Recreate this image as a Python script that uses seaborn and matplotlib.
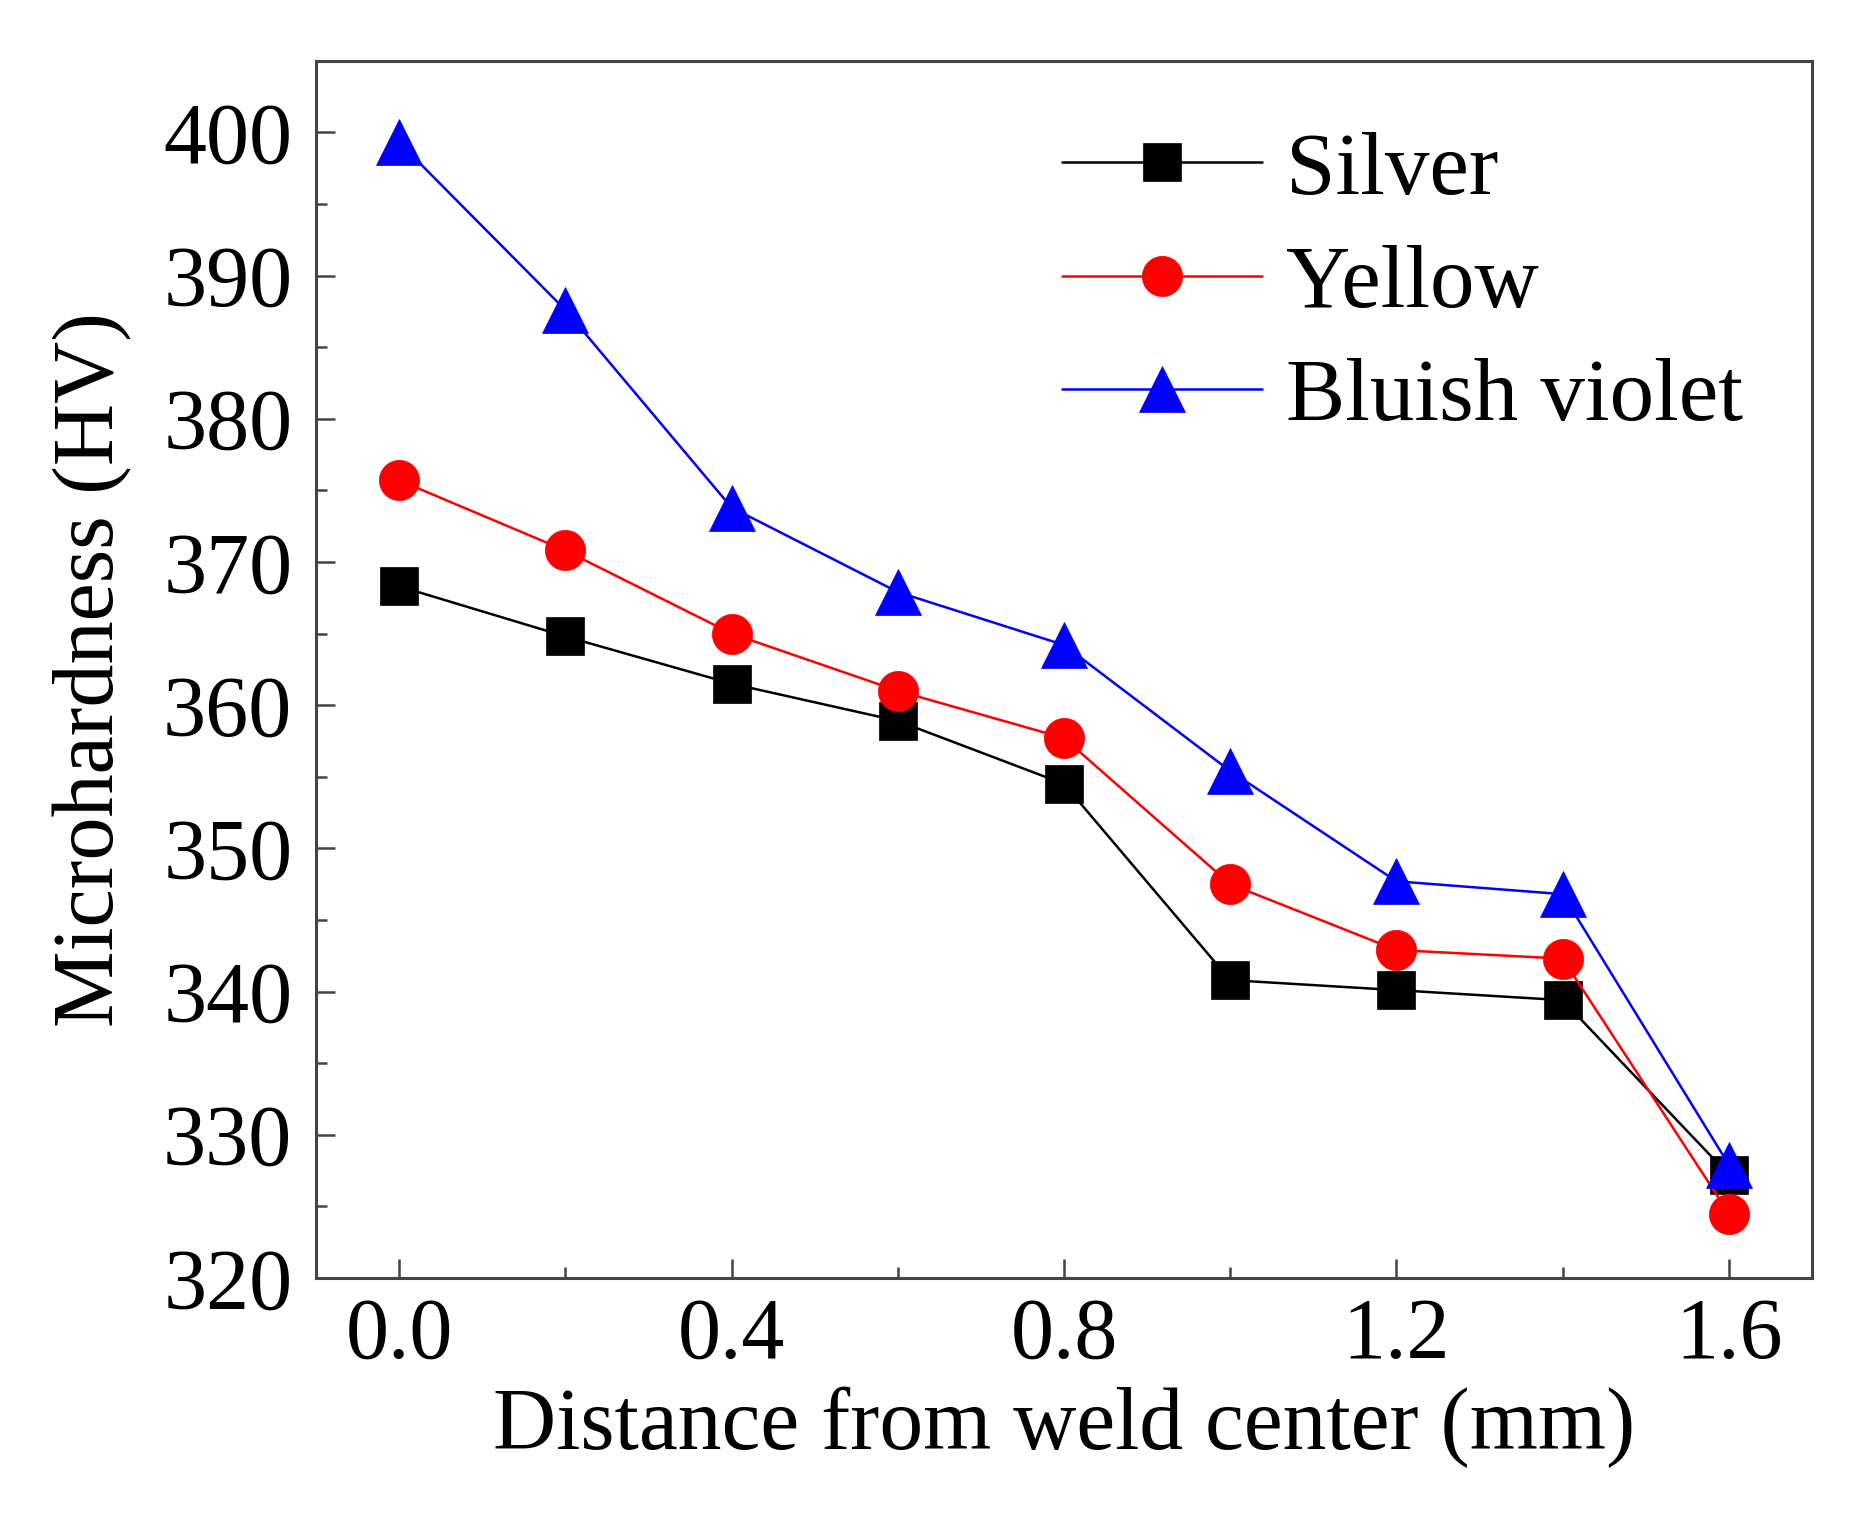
import numpy as np
import pandas as pd
import matplotlib
matplotlib.use("Agg")
import matplotlib.pyplot as plt
from matplotlib.ticker import MultipleLocator
import seaborn as sns

distance = [0.0, 0.2, 0.4, 0.6, 0.8, 1.0, 1.2, 1.4, 1.6]
silver = [368.3, 364.8, 361.5, 358.9, 354.5, 340.8, 340.1, 339.4, 327.2]
yellow = [375.7, 370.8, 365.0, 361.0, 357.7, 347.5, 342.9, 342.3, 324.5]
bluish_violet = [399.3, 387.6, 373.8, 367.9, 364.2, 355.4, 347.7, 346.8, 327.9]
series_names = ["Silver", "Yellow", "Bluish violet"]

sns.set_style("ticks")
plt.rcParams['font.family'] = ['Liberation Serif', 'DejaVu Serif']
plt.rcParams['text.color'] = 'black'
plt.rcParams['axes.labelcolor'] = 'black'
plt.rcParams['xtick.color'] = 'black'
plt.rcParams['ytick.color'] = 'black'

fig = plt.figure(figsize=(18.74, 15.14), dpi=100)
ax = fig.add_axes([0.1686, 0.1559, 0.9669 - 0.1686, 0.9599 - 0.1559])

styles = [("s", "#000000", 27), ("o", "#ff0000", 29), ("^", "#0000ff", 33)]
for name, vals, (mk, col, ms) in zip(series_names, [silver, yellow, bluish_violet], styles):
    sns.lineplot(x=distance, y=vals, ax=ax, marker=mk, markersize=ms, color=col,
                 markeredgecolor=col, markeredgewidth=0.5, linewidth=1.8, label=name)

ax.set_xlim(-0.1, 1.7)
ax.set_ylim(320, 405)
ax.xaxis.set_major_locator(MultipleLocator(0.4))
ax.xaxis.set_minor_locator(MultipleLocator(0.2))
ax.yaxis.set_major_locator(MultipleLocator(10))
ax.yaxis.set_minor_locator(MultipleLocator(5))
ax.set_xticklabels([f"{v:.1f}" for v in ax.get_xticks()])

for s in ax.spines.values():
    s.set_visible(True)
    s.set_color("#444444")
    s.set_linewidth(2.2)
ax.tick_params(which="major", direction="in", length=14, width=1.8, color="#444444",
               labelsize=62, labelcolor="black", top=False, right=False)
ax.tick_params(which="minor", direction="in", length=8, width=1.8, color="#444444",
               top=False, right=False)
ax.tick_params(axis="y", pad=17)
ax.tick_params(axis="x", pad=14)

ax.set_xlabel("Distance from weld center (mm)", fontsize=63, labelpad=7)
ax.set_ylabel("Microhardness (HV)", fontsize=62, labelpad=22)

leg = ax.legend(loc="upper left", bbox_to_anchor=(0.4987, 0.942), frameon=False,
                fontsize=64, handlelength=2.25, handletextpad=0.27, labelspacing=0.36,
                borderpad=0, borderaxespad=0)

fig.savefig("out.png", dpi=100, facecolor="white")
